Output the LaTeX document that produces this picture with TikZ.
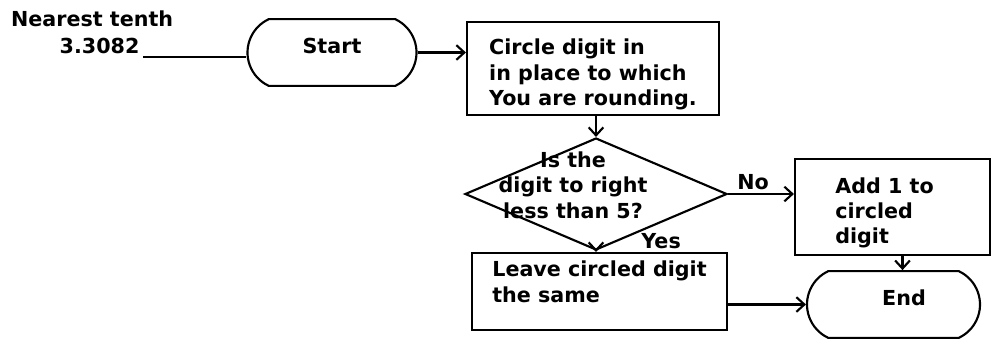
\documentclass[tikz,border=0pt]{standalone}
\usepackage{fontspec}
\setmainfont{DejaVu Sans}
\usetikzlibrary{arrows.meta,shapes.geometric,shapes.misc}

\newcommand{\topstrut}[1]{\rule{0pt}{#1}}
\newcommand{\botstrut}[1]{\rule[-#1]{0pt}{0pt}}

\tikzset{every picture/.style={line width=1.6pt}}
\tikzset{
  every node/.style={font=\bfseries\fontsize{15.5pt}{19pt}\selectfont},
  term/.style={draw, rounded rectangle, rounded rectangle arc length=130, minimum height=50pt, text height=11.2pt, text depth=10pt, inner sep=0pt},
  proc/.style={draw, rectangle, align=left, inner sep=0pt},
  test/.style={draw, diamond, inner sep=0pt},
  flow/.style={-{Straight Barb[length=6pt,width=11pt]}},
  tag/.style={inner sep=1pt}
}

\begin{document}
\begin{tikzpicture}[x=0.75pt,y=0.75pt,yscale=-1,xscale=1]
		\path [use as bounding box] (0,0) rectangle (992,340);
		
		% Text Node
		\node (nearest) [anchor=base west, inner sep=0pt] at (10,26.7) {Nearest tenth};
		% Text Node
		\node (num) [anchor=base west, inner sep=2pt] at (56,53.3) {3.3082};
		
		%Flowchart: Terminator
		\node (start) [term, minimum width=126.75pt] at (332,52.5) {Start};
		%Flowchart: Process
		\node (circ) [proc, minimum width=189pt, minimum height=69.75pt] at (593,68.5) {\topstrut{20.9pt}Circle digit in\\in place to which\\You are rounding.};
		%Flowchart: Decision
		\node (less) [test, minimum width=196.5pt, minimum height=84pt] at (596,194) {};
		% Text Node
		\node (lessq) [align=center, inner sep=0pt] at (573,185) {Is the\\digit to right\\less than 5?};
		%Flowchart: Process
		\node (add) [proc, minimum width=146.25pt, minimum height=72pt] at (892.5,207) {\topstrut{20.6pt}Add 1 to\hspace*{12pt}\\circled\\digit};
		%Flowchart: Process
		\node (leave) [proc, minimum width=191.25pt, minimum height=57.75pt] at (599.5,291.5) {Leave circled digit\\the same\botstrut{14.6pt}};
		%Flowchart: Terminator
		\node (stop) [term, minimum width=129.75pt] at (893.5,304.5) {\hspace*{15.75pt}End};
		
		%Straight Lines
		\draw (num.south east) -- (num.south east -| start.west);
		%Straight Lines
		\draw [flow] (start.east) -- (start.east -| circ.west);
		%Straight Lines
		\draw [flow] (less.north |- circ.south) -- (less.north);
		%Straight Lines
		\draw [flow] (less.east) -- (less.east -| add.west) node [tag, pos=0.38, above=1pt] {No};
		%Straight Lines
		\draw [flow] (less.south) -- (less.south |- leave.north) node [tag, pos=0, anchor=south west, xshift=32.25pt] {Yes};
		%Straight Lines
		\draw [flow] ([xshift=7.5pt]add.south) -- ([xshift=7.5pt]add.south |- stop.north);
		%Straight Lines
		\draw [flow] (leave.east |- stop.west) -- (stop.west);
		
\end{tikzpicture}
\end{document}
